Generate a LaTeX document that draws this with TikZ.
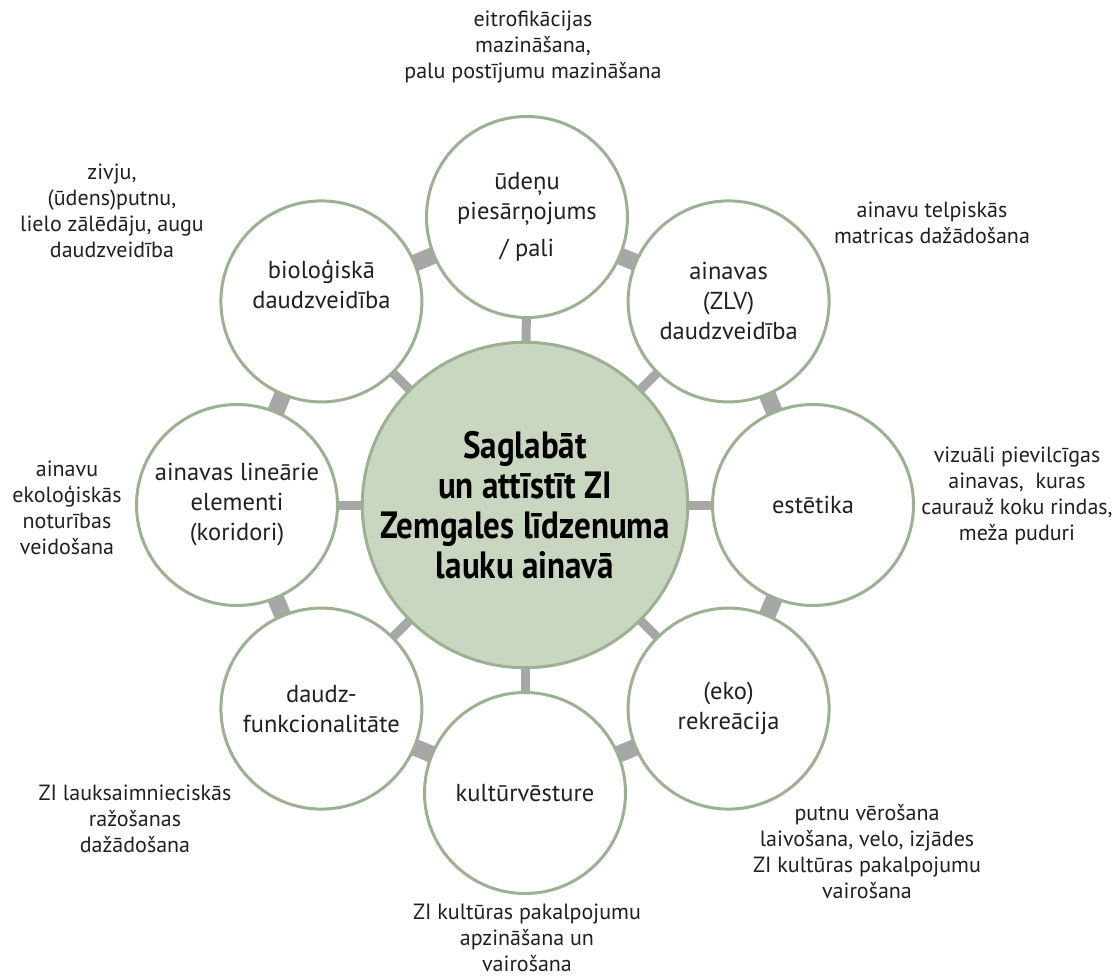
\documentclass[tikz,border=0pt]{standalone}
\usepackage{fontspec}
\setmainfont{PT Sans}
\newfontfamily\titlefont[FakeStretch=0.87]{PT Sans}
\usetikzlibrary{backgrounds}
\definecolor{circB}{HTML}{9CB092}
\definecolor{hubfill}{HTML}{C9D7C0}
\definecolor{conn}{HTML}{A7A7A7}
\definecolor{txt}{HTML}{231F20}
\begin{document}
\begin{tikzpicture}[x=1pt,y=-1pt,
  outer/.style={circle, draw=circB, line width=3pt, fill=white, minimum size=201pt, inner sep=0pt, align=center, text=txt, font=\fontsize{24.5}{30}\selectfont},
  hub/.style={circle, draw=circB, line width=3pt, fill=hubfill, minimum size=283pt, inner sep=0pt, align=center, text=black, font={\titlefont\bfseries\fontsize{38}{40}\selectfont}},
  note/.style={align=center, text=txt, inner sep=0pt, font=\fontsize{22}{26}\selectfont},
  spoke/.style={draw=conn, line width=9pt},
  bar/.style={draw=conn, line width=17pt}]
\useasboundingbox (0,0) rectangle (1116,979);
\node[hub] (C) at (525,505) {Saglabāt\\un attīstīt ZI\\Zemgales līdzenuma\\lauku ainavā};
\node[outer] (T) at (527,217) {ūdeņu\\piesārņojums\\[7pt]/ pali};
\node[outer] (TR) at (728.6,301.4) {ainavas\\(ZLV)\\daudzveidība};
\node[outer] (R) at (813,505) {estētika};
\node[outer] (BR) at (728.6,708.6) {(eko)\\rekreācija};
\node[outer] (B) at (525,793) {kultūrvēsture};
\node[outer] (BL) at (321.4,708.6) {daudz-\\funkcionalitāte};
\node[outer] (L) at (237,505) {ainavas lineārie\\elementi\\(koridori)};
\node[outer] (TL) at (321.4,301.4) {bioloģiskā\\daudzveidība\\[4pt]};
\begin{scope}[on background layer]
  \foreach \n in {T,TR,R,BR,B,BL,L,TL} {\draw[spoke] (C.center) -- (\n.center);}
  \draw[bar] (T.center) -- (TR.center);
  \draw[bar] (TR.center) -- (R.center);
  \draw[bar] (R.center) -- (BR.center);
  \draw[bar] (BR.center) -- (B.center);
  \draw[bar] (B.center) -- (BL.center);
  \draw[bar] (BL.center) -- (L.center);
  \draw[bar] (L.center) -- (TL.center);
  \draw[bar] (TL.center) -- (T.center);
\end{scope}
\node[note] (nT) at (533,47) {eitrofikācijas\\mazināšana,\\palu postījumu mazināšana};
\node[note] (nTL) at (112,211) {zivju,\\(ūdens)putnu,\\lielo zālēdāju, augu\\daudzveidība};
\node[note] (nTR) at (932,223) {ainavu telpiskās\\matricas dažādošana};
\node[note] (nR) at (1017,496) {vizuāli pievilcīgas\\ainavas,\ \ kuras\\caurauž koku rindas,\\meža puduri};
\node[note] (nL) at (67,508) {ainavu\\ekoloģiskās\\noturības\\veidošana};
\node[note] (nBR) at (867,852) {putnu vērošana\\laivošana, velo, izjādes\\ZI kultūras pakalpojumu\\vairošana};
\node[note] (nBL) at (135,819) {ZI lauksaimnieciskās\\ražošanas\\dažādošana};
\node[note] (nB) at (527,938) {ZI kultūras pakalpojumu\\apzināšana un\\vairošana};
\end{tikzpicture}
\end{document}
